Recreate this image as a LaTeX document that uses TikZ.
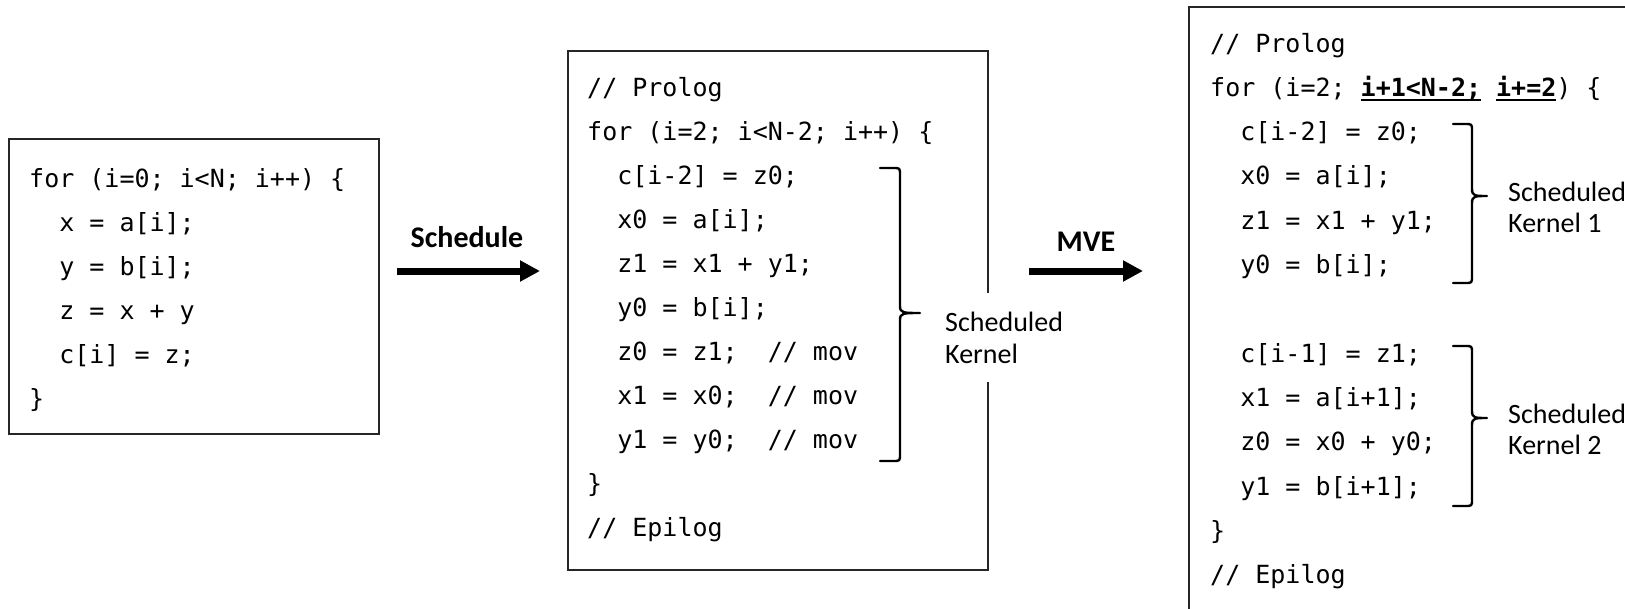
\documentclass[tikz,border=0pt]{standalone}
\usepackage{fontspec}
\setmainfont{Carlito}
\newfontfamily\codefont{DejaVu Sans Mono}[WordSpace={1,0,0}]
\usetikzlibrary{arrows.meta}

% lines stacked at a fixed baseline pitch; the box baseline is the first line
\newcommand\linestack[2]{\vtop{\baselineskip=#1pt\lineskiplimit=-100pt\lineskip=0pt\halign{##\hfil\cr#2\crcr}}}
% underlined code fragment
\newcommand\ulcode[1]{\setbox0=\hbox{#1}\rlap{\rule[-4.5pt]{\wd0}{1.7pt}}\box0\relax}
% right brace: hook start x, spine x, tip x, top, middle, bottom
\newcommand\kernelbrace[6]{%
  \draw[kbrace] (#1,#4) -- (#2-7,#4) .. controls (#2,#4) .. (#2,#4+7)
    -- (#2,#5-7) .. controls (#2,#5) and (#2+3,#5) .. (#3,#5)
    .. controls (#2+3,#5) and (#2,#5) .. (#2,#5+7)
    -- (#2,#6-7) .. controls (#2,#6) .. (#2-7,#6) -- (#1,#6);}

\begin{document}
\begin{tikzpicture}[x=1pt,y=-1pt,
  box/.style={draw=black!85, line width=1.6pt, inner sep=0pt, anchor=north west},
  code/.style={font=\codefont\fontsize{25}{30}\selectfont, inner sep=0pt, anchor=base west},
  note/.style={font=\fontsize{28}{32}\selectfont, inner sep=0pt, anchor=base west},
  steplabel/.style={font=\bfseries\fontsize{30}{36}\selectfont, inner sep=0pt, anchor=base},
  bigarrow/.style={line width=7pt, -{Triangle[length=20pt,width=20pt]}},
  kbrace/.style={line width=2.4pt, line cap=round, line join=round}]

\useasboundingbox (0,0) rectangle (1625,608);
\clip (0,0) rectangle (1625,608);
\fill[white] (0,0) rectangle (1625,608);

% original loop
\node[box, minimum width=370pt, minimum height=295pt] (b1) at (8,138) {};
\node[code] (c1) at (29,187) {\linestack{44}{%
for (i=0; i<N; i++) \{\cr
~~x = a[i];\cr
~~y = b[i];\cr
~~z = x + y\cr
~~c[i] = z;\cr
\}}};

% software-pipelined loop
\node[box, minimum width=420pt, minimum height=519pt] (b2) at (567,50) {};
\node[code] (c2) at (587,96) {\linestack{44}{%
// Prolog\cr
for (i=2; i<N-2; i++) \{\cr
~~c[i-2] = z0;\cr
~~x0 = a[i];\cr
~~z1 = x1 + y1;\cr
~~y0 = b[i];\cr
~~z0 = z1;~~// mov\cr
~~x1 = x0;~~// mov\cr
~~y1 = y0;~~// mov\cr
\}\cr
// Epilog}};
\kernelbrace{880}{900}{920}{168}{313}{461}
\node[note, fill=white, inner xsep=6pt, inner ysep=19pt] (k2) at (939,331)
  {\linestack{32}{Scheduled\cr Kernel}};

% after modulo variable expansion
\node[box, minimum width=500pt, minimum height=700pt] (b3) at (1188,6) {};
\node[code] (c3) at (1210,52) {\linestack{44.3}{%
// Prolog\cr
for (i=2; \ulcode{\bfseries i+1<N-2;} \ulcode{\bfseries i+=2}) \{\cr
~~c[i-2] = z0;\cr
~~x0 = a[i];\cr
~~z1 = x1 + y1;\cr
~~y0 = b[i];\cr
\cr
~~c[i-1] = z1;\cr
~~x1 = a[i+1];\cr
~~z0 = x0 + y0;\cr
~~y1 = b[i+1];\cr
\}\cr
// Epilog}};
\kernelbrace{1453}{1472}{1487}{124}{196}{283}
\node[note] (k31) at (1508,201) {\linestack{31}{Scheduled\cr Kernel 1}};
\kernelbrace{1453}{1472}{1487}{346}{418}{506}
\node[note] (k32) at (1508,423) {\linestack{31}{Scheduled\cr Kernel 2}};

% transformation arrows
\coordinate (s0) at (397,271);
\coordinate (s1) at (540,271);
\draw[bigarrow] (s0) -- (s1);
\node[steplabel] (lsched) at (467,247) {Schedule};

\coordinate (m0) at (1029,271);
\coordinate (m1) at (1143,271);
\draw[bigarrow] (m0) -- (m1);
\node[steplabel] (lmve) at (1086,251) {MVE};
\end{tikzpicture}
\end{document}
